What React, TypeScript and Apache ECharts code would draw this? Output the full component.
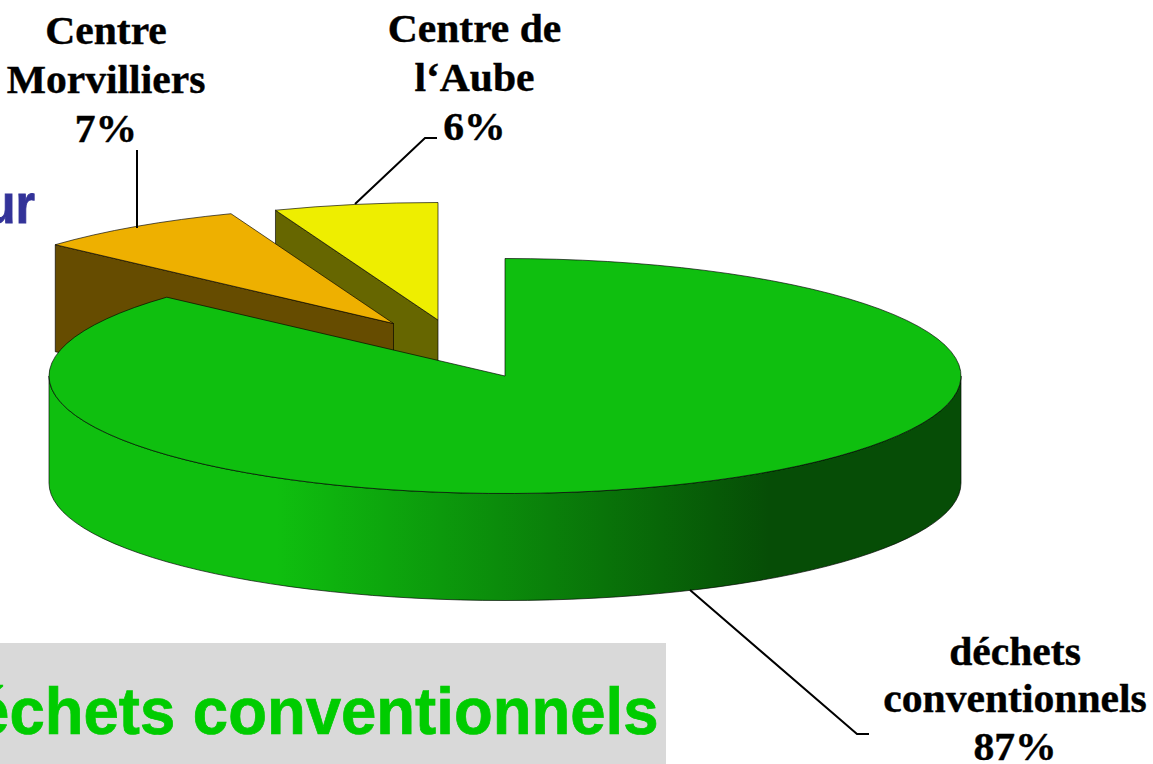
import React, { useEffect, useRef } from "react";
import * as echarts from "echarts";

const categories = ["déchets conventionnels", "Centre Morvilliers", "Centre de l‘Aube"];
const shares = [86.7, 7.5, 5.8];
const labelLines = [
  ["déchets", "conventionnels", "87%"],
  ["Centre", "Morvilliers", "7%"],
  ["Centre de", "l‘Aube", "6%"],
];
const topColors = ["#0FBF0F", "#EEB000", "#EEEE00"];
const wallColors = ["#064D06", "#664C00", "#666600"];

const W = 1153;
const H = 764;
const RX = 456;
const RY = 117.5;
const DEPTH = 107;
// Apex of each slice on the page (exploded slices are moved away from the pie)
const apexes = [
  [505, 376],
  [393.5, 323.5],
  [438, 320],
];
const labelCentres = [1015, 106, 474.5];
const labelMiddles = [
  [652, 699, 747],
  [31, 80, 129],
  [29, 78, 127],
];

const EDGE = "rgba(0,0,0,0.65)";

function App() {
  const ref = useRef<HTMLDivElement>(null);

  useEffect(() => {
    const chart = echarts.init(ref.current!, null, { renderer: "svg" });

    const point = (c: number[], deg: number, dy = 0) => {
      const t = (deg * Math.PI) / 180;
      return [c[0] + RX * Math.sin(t), c[1] - RY * Math.cos(t) + dy];
    };
    const starts: number[] = [];
    const total = shares.reduce((a, b) => a + b, 0);
    shares.reduce((acc, v) => {
      starts.push(acc);
      return acc + (v / total) * 360;
    }, 0);

    const renderItem = (_params: any, api: any) => {
      const i = api.value(0) as number;
      const share = api.value(1) as number;
      const a0 = starts[i];
      const a1 = a0 + (share / total) * 360;
      const c = apexes[i];
      const p0 = point(c, a0);
      const p1 = point(c, a1);
      const large = a1 - a0 > 180 ? 1 : 0;
      const children: any[] = [];

      if (i === 0) {
        // Curved front rim of the pie, shaded from left to right
        const r = point(c, 90);
        const l = point(c, 270);
        children.push({
          type: "path",
          shape: {
            pathData: `M${r[0]} ${r[1]}A${RX} ${RY} 0 0 1 ${l[0]} ${l[1]}L${l[0]} ${l[1] + DEPTH}A${RX} ${RY} 0 0 0 ${r[0]} ${r[1] + DEPTH}Z`,
          },
          style: {
            fill: new echarts.graphic.LinearGradient(0, 0, 1, 0, [
              { offset: 0, color: topColors[0] },
              { offset: 0.25, color: topColors[0] },
              { offset: 0.79, color: wallColors[0] },
              { offset: 1, color: wallColors[0] },
            ]),
            stroke: EDGE,
            lineWidth: 1,
          },
        });
      } else {
        // Cut wall seen through the gap: from the outer left point to the apex
        children.push({
          type: "polygon",
          shape: {
            points: [p0, c, [c[0], c[1] + DEPTH], [p0[0], p0[1] + DEPTH]],
          },
          style: { fill: wallColors[i], stroke: EDGE, lineWidth: 1 },
        });
      }
      children.push({
        type: "path",
        shape: {
          pathData: `M${c[0]} ${c[1]}L${p0[0]} ${p0[1]}A${RX} ${RY} 0 ${large} 1 ${p1[0]} ${p1[1]}Z`,
        },
        style: { fill: topColors[i], stroke: EDGE, lineWidth: 1 },
      });
      return { type: "group", children };
    };

    // Painted back to front: the large slice covers the base of the other two
    const seriesData = shares.map((v, i) => ({ name: categories[i], value: [i, v] })).reverse();

    const labelGraphics: any[] = [];
    labelLines.forEach((lines, i) => {
      lines.forEach((line, j) => {
        labelGraphics.push({
          type: "text",
          z: 10,
          x: labelCentres[i],
          y: labelMiddles[i][j],
          scaleX: 1.04,
          style: {
            text: line,
            fill: "#000",
            stroke: "#000",
            lineWidth: 0.4,
            font: 'bold 40px "Liberation Serif"',
            align: "center",
            verticalAlign: "middle",
          },
        });
      });
    });

    const leader = (points: number[][]) => ({
      type: "polyline",
      z: 9,
      shape: { points },
      style: { stroke: "#000", lineWidth: 2, fill: "none" },
    });

    chart.setOption({
      animation: false,
      backgroundColor: "#fff",
      graphic: [
        {
          type: "rect",
          z: -5,
          shape: { x: 0, y: 643, width: 666, height: 121 },
          style: { fill: "#D9D9D9" },
        },
        {
          type: "text",
          z: -4,
          x: 658.5,
          y: 711,
          scaleY: 1.04,
          style: {
            text: "déchets conventionnels",
            fill: "#00CC00",
            stroke: "#00CC00",
            lineWidth: 0.7,
            font: 'bold 63.5px "Liberation Sans"',
            align: "right",
            verticalAlign: "middle",
          },
        },
        {
          type: "text",
          z: -4,
          x: 35,
          y: 204,
          scaleY: 1.1,
          style: {
            text: "ur",
            fill: "#333399",
            stroke: "#333399",
            lineWidth: 0.8,
            font: 'bold 50px "Liberation Sans"',
            align: "right",
            verticalAlign: "middle",
          },
        },
        leader([[137, 150], [137, 228]]),
        leader([[355, 204], [425, 138], [437, 138]]),
        leader([[690, 590], [857, 734], [869, 734]]),
        ...labelGraphics,
      ],
      series: [
        {
          type: "custom",
          coordinateSystem: "none",
          renderItem,
          data: seriesData,
          silent: true,
          z: 5,
        },
      ],
    });

    return () => chart.dispose();
  }, []);

  return (
    <div
      ref={ref}
      style={{ position: "absolute", left: 0, top: 0, width: W, height: H, overflow: "hidden" }}
    />
  );
}

export default App;
